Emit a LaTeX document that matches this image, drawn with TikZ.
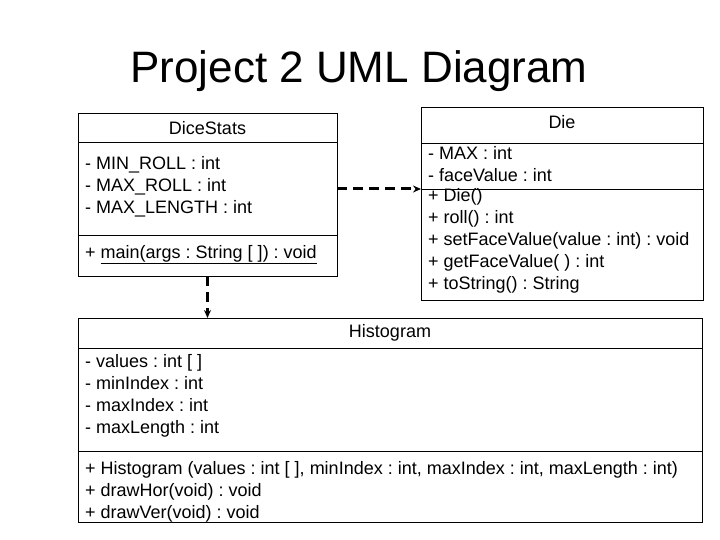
\documentclass[tikz,border=0pt]{standalone}
\usepackage{fontspec}
\setmainfont{Liberation Sans}
\frenchspacing
\usetikzlibrary{arrows.meta, positioning}
\tikzset{
  compart/.style={draw, line width=1pt, outer sep=0pt, inner sep=0pt, anchor=north west},
  classname/.style={font=\fontsize{18}{22}\selectfont},
  members/.style={anchor=north west, align=left, inner sep=0pt, font=\fontsize{18}{22}\selectfont},
  uses/.style={line width=3pt, dash pattern=on 10pt off 6pt, -{Stealth[length=8pt,width=7pt]}}
}

\begin{document}
\begin{tikzpicture}[x=1pt, y=-1pt]
  \useasboundingbox (0,0) rectangle (720,540);
%% title
  \node[anchor=base, font=\fontsize{44}{50}\selectfont] (title) at (359,83) {Project 2 UML Diagram};
%% DiceStats
  \node[compart, classname, minimum width=259pt, minimum height=29pt] (stats-name) at (78,114) {DiceStats};
  \node[compart, minimum width=259pt, minimum height=92pt, below=0pt of stats-name] (stats-attr) {};
  \node[compart, minimum width=259pt, minimum height=41pt, below=0pt of stats-attr] (stats-ops) {};
  \node[members] (stats-attr-list) at (85,156) {- MIN\_ROLL : int\\- MAX\_ROLL : int\\- MAX\_LENGTH : int};
  \node[members] (stats-ops-list) at (85,245) {+ \underline{main(args : String [ ]) : void}};
%% Die
  \node[compart, classname, minimum width=282pt, minimum height=36pt, text depth=9pt] (die-name) at (421,108) {Die};
  \node[compart, minimum width=282pt, minimum height=46pt, below=0pt of die-name] (die-attr) {};
  \node[compart, minimum width=282pt, minimum height=110pt, below=0pt of die-attr] (die-ops) {};
  \node[members] (die-attr-list) at (428,146.5) {- MAX : int\\- faceValue : int};
  \node[members] (die-ops-list) at (428,188.5) {+ Die()\\+ roll() : int\\+ setFaceValue(value : int) : void\\+ getFaceValue( ) : int\\+ toString() : String};
%% Histogram
  \node[compart, classname, minimum width=624pt, minimum height=30pt] (hist-name) at (78,318) {Histogram};
  \node[compart, minimum width=624pt, minimum height=103pt, below=0pt of hist-name] (hist-attr) {};
  \node[compart, minimum width=624pt, minimum height=71pt, below=0pt of hist-attr] (hist-ops) {};
  \node[members] (hist-attr-list) at (85,354) {- values : int [ ]\\- minIndex : int\\- maxIndex : int\\- maxLength : int};
  \node[members] (hist-ops-list) at (85,461) {+ Histogram (values : int [ ], minIndex : int, maxIndex : int, maxLength : int)\\+ drawHor(void) : void\\+ drawVer(void) : void};
%% dependencies
  \draw[uses] (stats-attr.east) -- (stats-attr.east -| die-ops.west);
  \draw[uses] (stats-ops.south) -- (stats-ops.south |- hist-name.north);
\end{tikzpicture}
\end{document}
